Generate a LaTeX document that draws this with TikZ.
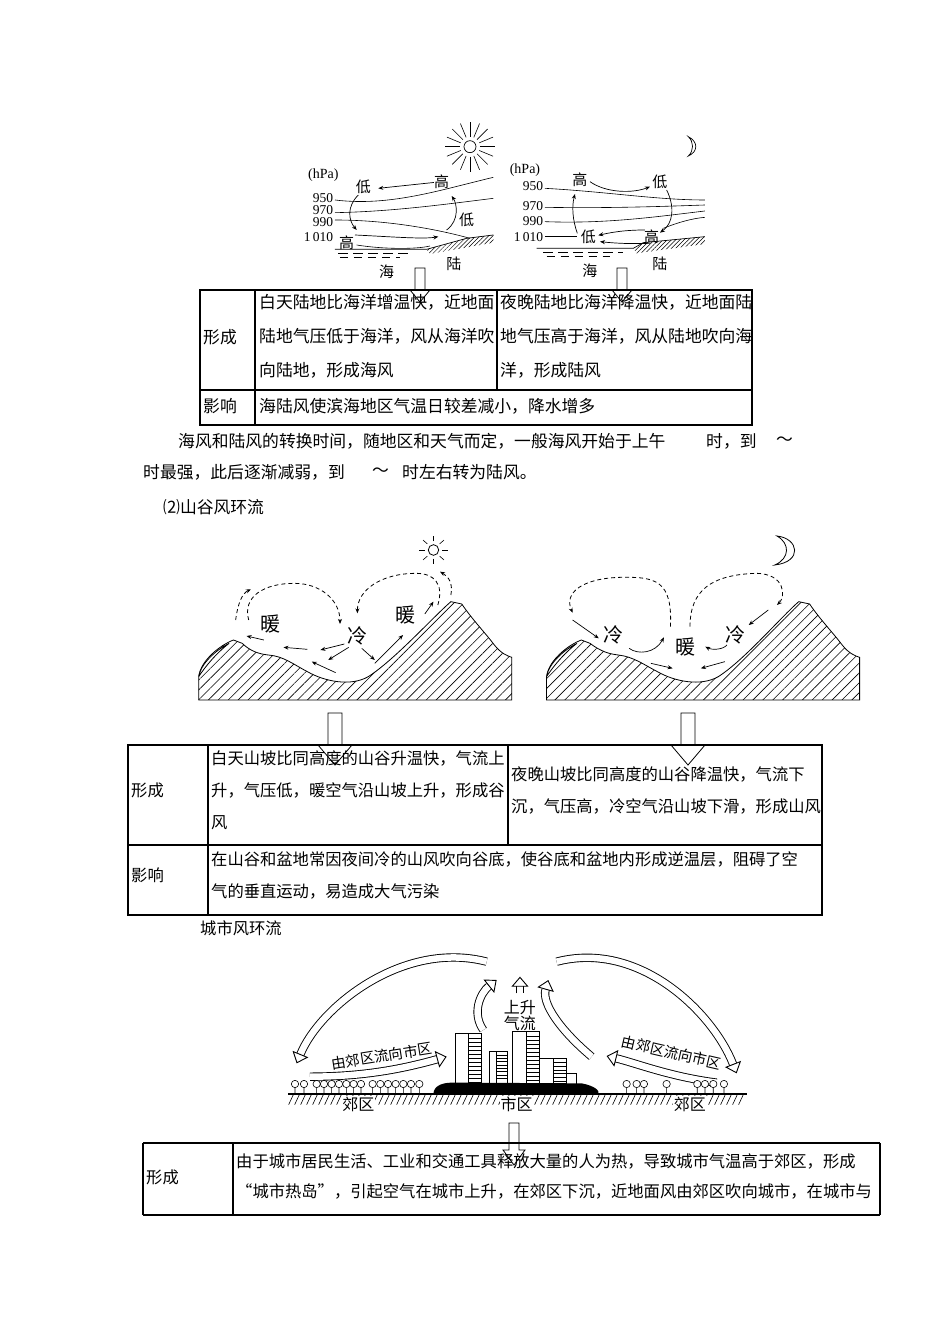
\documentclass[tikz,border=0pt]{standalone}
\usepackage{fontspec}
\setmainfont{Liberation Serif}
\newfontfamily\cjk{Noto Sans CJK SC}
\usetikzlibrary{arrows.meta,patterns.meta,calc}
\newcommand{\hdarrow}[6]{\draw[line width=0.8pt] ({#1-#2},#4) -- ({#1+#2},#4) -- ({#1+#2},#5) -- ({#1+#3},#5) -- (#1,#6) -- ({#1-#3},#5) -- ({#1-#2},#5) -- cycle;}
\newcommand{\txt}{\cjk\fontsize{16.8}{18}\selectfont}
\newcommand{\txtb}{\cjk\fontsize{16.3}{18}\selectfont}
\begin{document}
\begin{tikzpicture}[x=1pt,y=-1pt,
  every node/.style={inner sep=0pt},
  tline/.style={line width=1.3pt},
  body/.style={anchor=west,font=\txt},
  bodyb/.style={anchor=west,font=\txtb},
  lab/.style={font=\cjk\fontsize{15}{15}\selectfont},
  num/.style={font=\fontsize{13.5}{13.5}\selectfont,anchor=east},
  flow/.style={line width=0.7pt,-{Stealth[length=5pt,width=4pt]}},
  dflow/.style={line width=0.8pt,dash pattern=on 4pt off 3pt,-{Stealth[length=5pt,width=4pt]}},
  hatch/.style={pattern={Lines[angle=45,distance=7pt,line width=0.6pt]}},
  fhatch/.style={pattern={Lines[angle=45,distance=3pt,line width=0.5pt]}},
  big/.style={draw,line width=0.9pt,double=white,double distance=6.5pt,-{Triangle[open,length=10pt,width=17pt,line width=0.9pt]}},
  tree/.style={line width=0.6pt}]
\path[use as bounding box,fill=white] (0,0) rectangle (950,1344);

% ===== top sea-land diagram =====
\begin{scope}[xshift=290pt,yshift=-120pt,x=0.3333pt,y=-0.3333pt]
 \draw[line width=0.7pt] (540,80) circle (18);
 \foreach \a in {0,22.5,...,337.5} \draw[line width=0.6pt] ($(540,80)+(\a:30)$) -- ($(540,80)+(\a:75)$);
 \node[font=\fontsize{14}{14}\selectfont] (hpa1) at (100,165) {(hPa)};
 \node[lab] (d1) at (220,200) {低};
 \node[lab] (g1) at (455,185) {高};
 \draw[flow] (g1) -- (265,205);
 \node[num] (n950a) at (130,233) {950};
 \node[num] (n970a) at (130,270) {970};
 \node[num] (n990a) at (130,307) {990};
 \node[num] (n1010a) at (130,350) {1\,010};
 \draw[line width=0.6pt] (135,240) .. controls (300,260) and (450,210) .. (610,172);
 \draw[line width=0.6pt] (135,278) .. controls (300,275) and (450,255) .. (610,235);
 \draw[line width=0.6pt] (135,300) .. controls (300,300) and (450,330) .. (540,355);
 \node[lab] (d2) at (530,300) {低};
 \node[lab] (g2) at (170,368) {高};
 \draw[flow] (205,225) .. controls (170,260) and (175,300) .. (200,330);
 \draw[flow] (470,330) .. controls (510,300) and (500,250) .. (485,228);
 \draw[flow] (195,345) .. controls (300,350) and (400,358) .. (445,350);
 \draw[line width=0.6pt] (200,375) .. controls (280,388) and (380,388) .. (420,378);
 \draw[line width=0.7pt] (135,388) -- (410,388) -- (530,355) -- (610,345);
 \fill[fhatch] (410,388) -- (530,355) -- (610,345) -- (610,368) -- (420,402) -- cycle;
 \draw[line width=0.6pt,dash pattern=on 10pt off 5pt] (145,400) -- (360,400);
 \draw[line width=0.6pt,dash pattern=on 8pt off 6pt] (150,412) -- (330,412);
 \node[lab] (hai1) at (290,455) {海};
 \node[lab] (lu1) at (492,432) {陆};
 % right
 \draw[line width=0.7pt] (1195,50) .. controls (1225,65) and (1225,95) .. (1195,108) .. controls (1212,92) and (1212,66) .. cycle;
 \node[font=\fontsize{14}{14}\selectfont] (hpa2) at (705,150) {(hPa)};
 \node[num] (n950b) at (760,198) {950};
 \node[num] (n970b) at (760,258) {970};
 \node[num] (n990b) at (760,302) {990};
 \node[num] (n1010b) at (760,350) {1\,010};
 \draw[line width=0.6pt] (765,205) .. controls (950,215) and (1100,240) .. (1245,240);
 \draw[line width=0.6pt] (765,262) .. controls (950,265) and (1100,260) .. (1245,255);
 \draw[line width=0.6pt] (765,305) .. controls (950,312) and (1100,290) .. (1245,273);
 \draw[line width=0.6pt] (765,350) -- (860,350);
 \draw[line width=0.6pt] (1120,325) .. controls (1170,305) and (1210,295) .. (1245,292);
 \node[lab] (g3) at (870,180) {高};
 \node[lab] (d3) at (1110,185) {低};
 \node[lab] (d4) at (895,352) {低};
 \node[lab] (g4) at (1085,350) {高};
 \draw[flow] (900,185) .. controls (950,220) and (1030,220) .. (1080,200);
 \draw[flow] (1130,210) .. controls (1155,260) and (1150,310) .. (1110,338);
 \draw[flow] (1065,330) .. controls (1000,330) and (960,338) .. (925,346);
 \draw[flow] (1080,370) .. controls (1020,372) and (980,370) .. (930,365);
 \draw[flow] (862,340) .. controls (848,300) and (845,260) .. (855,222);
 \draw[line width=0.7pt] (740,385) -- (1030,385) -- (1060,368) -- (1245,350);
 \fill[fhatch] (1030,385) -- (1060,368) -- (1245,350) -- (1245,372) -- (1040,400) -- cycle;
 \draw[line width=0.6pt,dash pattern=on 10pt off 5pt] (760,397) -- (1000,397);
 \draw[line width=0.6pt,dash pattern=on 8pt off 6pt] (770,410) -- (960,410);
 \node[lab] (hai2) at (900,452) {海};
 \node[lab] (lu2) at (1110,432) {陆};
\end{scope}
\hdarrow{420}{5}{10}{268}{290}{302}
\hdarrow{622}{5}{10}{268}{290}{302}

% ===== table 1 =====
\draw[tline] (200,290) rectangle (752,425);
\draw[tline] (200,390) -- (752,390);
\draw[tline] (255,290) -- (255,425);
\draw[tline] (497,290) -- (497,390);
\node[body] (a1) at (203,337) {形成};
\node[body] (a2) at (259,302) {白天陆地比海洋增温快，近地面};
\node[body] (a3) at (259,336) {陆地气压低于海洋，风从海洋吹};
\node[body] (a4) at (259,370) {向陆地，形成海风};
\node[body] (a5) at (500,302) {夜晚陆地比海洋降温快，近地面陆};
\node[body] (a6) at (500,336) {地气压高于海洋，风从陆地吹向海};
\node[body] (a7) at (500,370) {洋，形成陆风};
\node[body] (a8) at (203,406) {影响};
\node[body] (a9) at (259,406) {海陆风使滨海地区气温日较差减小，降水增多};
\node[body] (p1) at (178,441) {海风和陆风的转换时间，随地区和天气而定，一般海风开始于上午};
\node[body] (p2) at (706,441) {时，到};
\node[body] (p3) at (776,441) {～};
\node[body] (p4) at (143,472) {时最强，此后逐渐减弱，到};
\node[body] (p5) at (372,472) {～};
\node[body] (p6) at (402,472) {时左右转为陆风。};
\node[body] (p7) at (163,507) {⑵山谷风环流};

% ===== valley diagrams =====
\begin{scope}[xshift=190pt,yshift=-530pt,x=0.4348pt,y=-0.3333pt]
 \draw[line width=0.8pt,hatch] (20,510) -- (20,440) .. controls (25,390) and (70,345) .. (100,330) -- (120,340) .. controls (140,365) and (160,372) .. (180,375) .. controls (215,378) and (240,405) .. (270,425) .. controls (310,455) and (370,470) .. (410,440) .. controls (470,390) and (560,260) .. (600,215) -- (625,222) .. controls (650,270) and (680,310) .. (700,345) .. controls (715,370) and (730,378) .. (740,382) -- (740,510) -- cycle;
 \draw[line width=0.8pt,fill=white] (20,440) .. controls (25,400) and (60,360) .. (90,340) .. controls (60,370) and (35,410) .. (20,440);
 \draw[line width=0.8pt] (560,60) circle (12 and 16);
 \foreach \a in {0,45,...,315} \draw[line width=0.6pt] ($(560,60)+(\a:20 and 26)$) -- ($(560,60)+(\a:34 and 42)$);
 \node[font=\cjk\fontsize{20}{20}\selectfont] (w1) at (185,282) {暖};
 \node[font=\cjk\fontsize{20}{20}\selectfont] (c1) at (385,318) {冷};
 \node[font=\cjk\fontsize{20}{20}\selectfont] (w2) at (495,255) {暖};
 \draw[dflow] (105,270) .. controls (110,220) and (120,190) .. (140,178);
 \draw[dflow] (135,270) .. controls (120,200) and (170,160) .. (240,160) .. controls (300,160) and (345,210) .. (345,282);
 \draw[dflow] (570,225) .. controls (585,160) and (560,130) .. (520,130) .. controls (440,130) and (385,180) .. (385,250);
 \draw[dflow] (600,195) .. controls (605,160) and (595,140) .. (575,125);
 \draw[flow] (170,330) -- (130,318);
 \draw[flow] (270,358) -- (215,352);
 \draw[flow] (335,428) -- (280,395);
 \draw[flow] (355,342) -- (300,360);
 \draw[flow] (365,352) -- (318,390);
 \draw[flow] (395,355) -- (425,390);
 \draw[flow] (425,400) -- (490,315);
 \draw[flow] (540,252) -- (560,215);
 % right valley
 \draw[line width=0.8pt,hatch] (820,510) -- (820,440) .. controls (825,390) and (870,345) .. (900,330) -- (920,340) .. controls (945,365) and (965,372) .. (985,375) .. controls (1020,380) and (1045,405) .. (1075,425) .. controls (1115,455) and (1175,470) .. (1215,440) .. controls (1275,390) and (1360,260) .. (1400,215) -- (1425,222) .. controls (1450,270) and (1480,310) .. (1500,345) .. controls (1515,370) and (1530,378) .. (1540,382) -- (1540,510) -- cycle;
 \draw[line width=0.8pt,fill=white] (820,440) .. controls (825,400) and (860,360) .. (890,340) .. controls (860,370) and (835,410) .. (820,440);
 \draw[line width=0.8pt,fill=white] (1350,18) .. controls (1400,25) and (1410,95) .. (1345,105) .. controls (1380,85) and (1380,40) .. cycle;
 \node[font=\cjk\fontsize{20}{20}\selectfont] (c2) at (975,315) {冷};
 \node[font=\cjk\fontsize{20}{20}\selectfont] (w3) at (1140,350) {暖};
 \node[font=\cjk\fontsize{20}{20}\selectfont] (c3) at (1255,315) {冷};
 \draw[dflow] (1105,290) .. controls (1110,150) and (1070,140) .. (990,142) .. controls (900,145) and (860,190) .. (880,248);
 \draw[dflow] (1150,290) .. controls (1150,180) and (1200,135) .. (1300,130) .. controls (1370,130) and (1370,200) .. (1350,225);
 \draw[flow] (880,270) -- (940,325);
 \draw[flow] (1010,355) .. controls (1030,375) and (1070,370) .. (1090,322);
 \draw[flow] (1235,345) .. controls (1225,360) and (1200,360) .. (1185,350);
 \draw[flow] (1060,400) -- (1110,415);
 \draw[flow] (1230,395) -- (1175,415);
 \draw[flow] (1330,240) -- (1285,285);
\end{scope}
\hdarrow{335}{7}{17}{713}{745}{765}
\hdarrow{688}{7}{17}{713}{745}{765}

% ===== table 2 =====
\draw[tline] (128,745) rectangle (822,915);
\draw[tline] (128,845) -- (822,845);
\draw[tline] (208,745) -- (208,915);
\draw[tline] (508,745) -- (508,845);
\node[bodyb] (b1) at (131,790) {形成};
\node[bodyb] (b2) at (211,758) {白天山坡比同高度的山谷升温快，气流上};
\node[bodyb] (b3) at (211,790) {升，气压低，暖空气沿山坡上升，形成谷};
\node[bodyb] (b4) at (211,823) {风};
\node[bodyb] (b5) at (511,774) {夜晚山坡比同高度的山谷降温快，气流下};
\node[bodyb] (b6) at (511,806) {沉，气压高，冷空气沿山坡下滑，形成山风};
\node[bodyb] (b7) at (131,875) {影响};
\node[bodyb] (b8) at (211,859) {在山谷和盆地常因夜间冷的山风吹向谷底，使谷底和盆地内形成逆温层，阻碍了空};
\node[bodyb] (b9) at (211,891) {气的垂直运动，易造成大气污染};
\node[bodyb] (b10) at (200,928) {城市风环流};

% ===== city diagram =====
\begin{scope}[xshift=270pt,yshift=-930pt,x=0.3333pt,y=-0.3333pt]
 \draw[big] (650,95) .. controls (400,30) and (150,230) .. (80,400);
 \draw[big] (860,95) .. controls (1110,30) and (1330,250) .. (1400,430);
 \draw[big] (640,300) .. controls (605,250) and (630,190) .. (680,150);
 \draw[big] (750,190) -- (750,140);
 \draw[big] (965,380) .. controls (870,300) and (815,220) .. (835,150);
 \draw[big] (120,440) .. controls (300,440) and (420,410) .. (530,380);
 \draw[big] (1340,458) .. controls (1200,440) and (1100,400) .. (1010,378);
 \node[font=\cjk\fontsize{16}{16}\selectfont] (ss1) at (750,232) {上升};
 \node[font=\cjk\fontsize{16}{16}\selectfont] (ss2) at (750,280) {气流};
 \node[font=\cjk\fontsize{14.5}{14.5}\selectfont,rotate=9] (lz1) at (335,378) {由郊区流向市区};
 \node[font=\cjk\fontsize{14.5}{14.5}\selectfont,rotate=-13] (lz2) at (1205,368) {由郊区流向市区};
 % buildings
 \foreach \x/\y/\m/\r/\b in {555/310/595/635/470, 728/305/770/808/470} {
   \draw[line width=0.7pt,fill=white] (\x,\y) rectangle (\r,\b);
   \draw[line width=0.6pt] (\m,\y) -- (\m,\b);
   \foreach \k in {0,...,12} \draw[line width=0.5pt] (\m,{\y+15+\k*12}) -- (\r,{\y+15+\k*12});
 }
 \draw[line width=0.7pt,fill=white] (658,365) rectangle (712,460);
 \draw[line width=0.6pt] (680,365) -- (680,460);
 \foreach \k in {0,...,7} \draw[line width=0.5pt] (680,{375+\k*10}) -- (712,{375+\k*10});
 \draw[line width=0.7pt,fill=white] (808,385) rectangle (890,470);
 \draw[line width=0.6pt] (850,385) -- (850,470);
 \foreach \k in {0,...,6} \draw[line width=0.5pt] (850,{398+\k*11}) -- (890,{398+\k*11});
 \draw[line width=0.7pt,fill=white] (890,430) rectangle (918,470);
 \fill (490,492) .. controls (492,465) and (520,456) .. (560,458) -- (935,460) .. controls (975,468) and (990,482) .. (985,492) -- cycle;
 % trees
 \foreach \x in {75,102,140,162,185,207,229,251,273,308,331,354,377,400,423,448,1070,1100,1122,1190,1282,1305,1330,1362}
   \draw[tree,fill=white] (\x,462) circle (11) (\x,473) -- (\x,490);
 % ground
 \draw[line width=1.2pt] (55,492) -- (1430,492);
 \foreach \x in {70,88,...,1430} \draw[line width=0.6pt] (\x,494) -- ({\x-14},524);
 \node[font=\cjk\fontsize{16}{16}\selectfont,fill=white,inner sep=1pt] (jq1) at (265,522) {郊区};
 \node[font=\cjk\fontsize{16}{16}\selectfont,fill=white,inner sep=1pt] (sq) at (740,522) {市区};
 \node[font=\cjk\fontsize{16}{16}\selectfont,fill=white,inner sep=1pt] (jq2) at (1260,522) {郊区};
\end{scope}
\hdarrow{514}{5}{11}{1123}{1150}{1165}

% ===== table 3 =====
\draw[tline] (143,1143) -- (880,1143);
\draw[tline] (143,1215) -- (880,1215);
\draw[tline] (143,1143) -- (143,1215);
\draw[tline] (233,1143) -- (233,1215);
\draw[tline] (880,1143) -- (880,1215);
\node[bodyb] (c1t) at (146,1177) {形成};
\node[bodyb] (c2t) at (236,1161) {由于城市居民生活、工业和交通工具释放大量的人为热，导致城市气温高于郊区，形成};
\node[bodyb] (c3t) at (236,1191) {“城市热岛”，引起空气在城市上升，在郊区下沉，近地面风由郊区吹向城市，在城市与};
\end{tikzpicture}
\end{document}
